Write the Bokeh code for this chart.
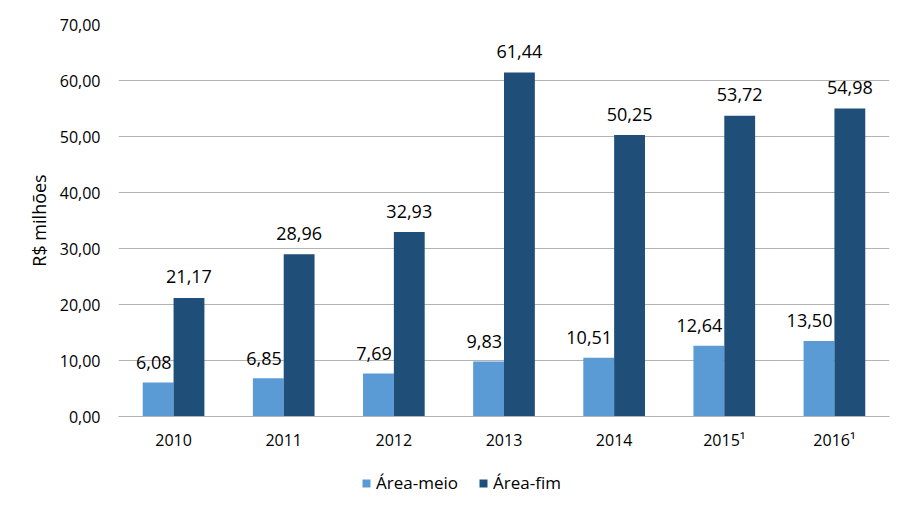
from bokeh.plotting import figure
from bokeh.layouts import column
from bokeh.models import ColumnDataSource, FactorRange, Range1d, Legend, LegendItem, FixedTicker
from bokeh.transform import dodge
from bokeh.core.properties import value
from bokeh.embed import file_html
from bokeh.resources import INLINE

# ---- data ----
years = ["2010", "2011", "2012", "2013", "2014", "2015¹", "2016¹"]
area_meio = [6.08, 6.85, 7.69, 9.83, 10.51, 12.64, 13.50]
area_fim = [21.17, 28.96, 32.93, 61.44, 50.25, 53.72, 54.98]
series_names = ["Área-meio", "Área-fim"]
y_ticks = [0, 10, 20, 30, 40, 50, 60, 70]
y_tick_labels = ["0,00", "10,00", "20,00", "30,00", "40,00", "50,00", "60,00", "70,00"]
y_axis_title = "R$ milhões"

# ---- styles ----
LIGHT = "#5B9BD5"
DARK = "#1F4E79"
GRID = "#b3b3b3"
FONT = "Open Sans"
W = 897


def fmt(v):
    return f"{v:.2f}".replace(".", ",")


src = ColumnDataSource(dict(
    year=years,
    meio=area_meio,
    fim=area_fim,
    meio_lbl=[fmt(v) for v in area_meio],
    fim_lbl=[fmt(v) for v in area_fim],
))

p = figure(
    x_range=FactorRange(*years), y_range=Range1d(0, 70),
    width=W, height=460, output_backend="svg", toolbar_location=None,
    min_border_left=118, min_border_right=8, min_border_top=24, min_border_bottom=44,
)
p.outline_line_color = None
p.xgrid.grid_line_color = None
p.ygrid.grid_line_color = GRID
p.ygrid.ticker = FixedTicker(ticks=y_ticks)

bw = 0.28
r1 = p.vbar(x=dodge("year", -bw / 2, range=p.x_range), top="meio", width=bw,
            source=src, fill_color=LIGHT, line_color=None)
r2 = p.vbar(x=dodge("year", bw / 2, range=p.x_range), top="fim", width=bw,
            source=src, fill_color=DARK, line_color=None)

p.text(x=dodge("year", 0, range=p.x_range), y="meio", text="meio_lbl", source=src,
       text_align="right", text_baseline="alphabetic", x_offset=-2, y_offset=-20,
       text_font=value(FONT), text_font_size="18px", text_color="black")
p.text(x=dodge("year", bw / 2, range=p.x_range), y="fim", text="fim_lbl", source=src,
       text_align="center", text_baseline="alphabetic", y_offset=-21,
       text_font=value(FONT), text_font_size="18px", text_color="black")

# y axis
p.yaxis.ticker = FixedTicker(ticks=y_ticks)
p.yaxis.major_label_overrides = dict(zip(y_ticks, y_tick_labels))
p.yaxis.axis_line_color = None
p.yaxis.major_tick_line_color = None
p.yaxis.minor_tick_line_color = None
p.yaxis.major_label_standoff = 12
p.yaxis.major_label_text_font = FONT
p.yaxis.major_label_text_font_size = "16px"
p.yaxis.major_label_text_color = "black"
p.yaxis.axis_label = y_axis_title
p.yaxis.axis_label_text_font = FONT
p.yaxis.axis_label_text_font_size = "18px"
p.yaxis.axis_label_text_font_style = "normal"
p.yaxis.axis_label_text_color = "black"
p.yaxis.axis_label_standoff = 6

# x axis
p.xaxis.axis_line_color = GRID
p.xaxis.major_tick_line_color = None
p.xaxis.minor_tick_line_color = None
p.xaxis.major_label_standoff = 6
p.xaxis.major_label_text_font = FONT
p.xaxis.major_label_text_font_size = "16px"
p.xaxis.major_label_text_color = "black"

# ---- legend strip: a small figure (frame aligned with the chart's) holding the legend;
# its renderers are hidden, so only their legend swatches show ----
LH = 38
lf = figure(width=W, height=LH, output_backend="svg", toolbar_location=None,
            x_range=FactorRange(*years), y_range=Range1d(-2, -1),
            x_axis_location=None, y_axis_location=None, min_border=0)
lf.outline_line_color = None
lf.grid.grid_line_color = None
lr1 = lf.vbar(x="year", top="meio", bottom="meio", width=bw, source=src,
              fill_color=LIGHT, line_color=None)
lr2 = lf.vbar(x="year", top="fim", bottom="fim", width=bw, source=src,
              fill_color=DARK, line_color=None)
lr1.visible = False
lr2.visible = False
legend = Legend(
    items=[LegendItem(label=series_names[0], renderers=[lr1]),
           LegendItem(label=series_names[1], renderers=[lr2])],
    orientation="horizontal", location=(243, 4), click_policy="none",
    border_line_color=None, background_fill_alpha=0,
    glyph_width=10, glyph_height=10, label_standoff=5, spacing=20,
    label_text_font=FONT, label_text_font_size="17px", label_text_color="black",
    padding=0, margin=0,
)
lf.add_layout(legend, "center")

layout = column(p, lf, spacing=0)
open("out.html", "w").write(file_html(layout, INLINE))
